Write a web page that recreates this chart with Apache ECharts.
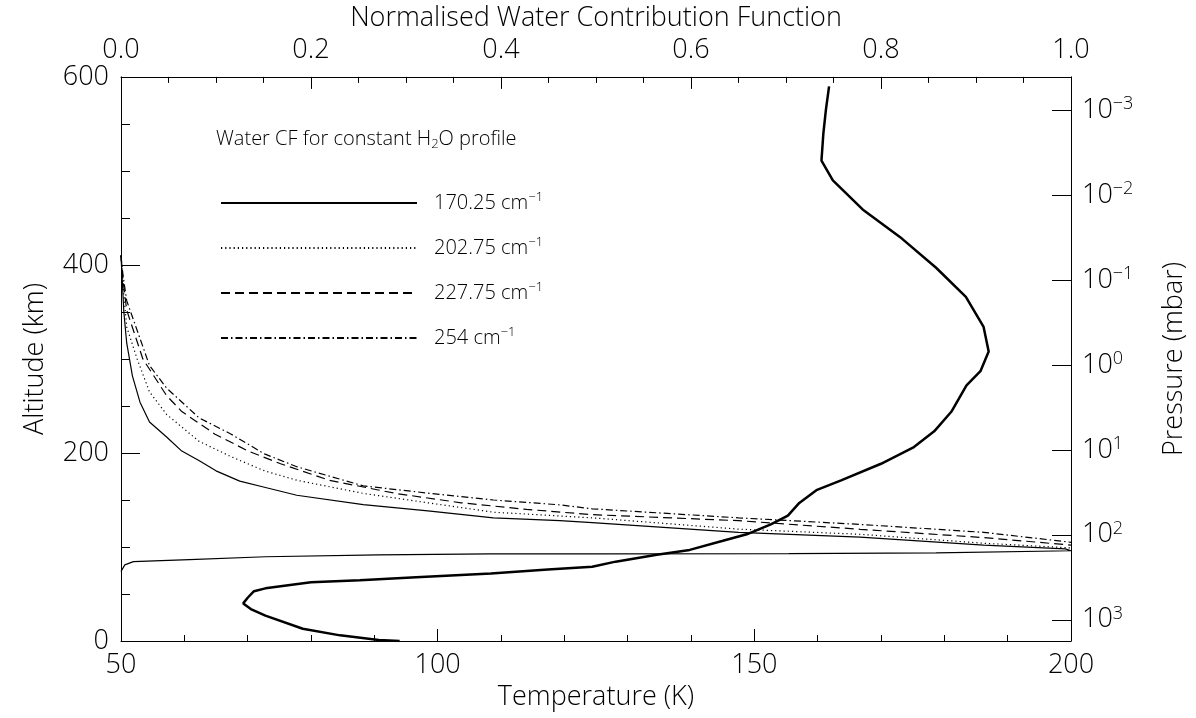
<!DOCTYPE html>
<html><head><meta charset="utf-8">
<script src="https://cdn.jsdelivr.net/npm/echarts@6/dist/echarts.min.js"></script>
<style>html,body{margin:0;padding:0;background:#fff}#c{width:1196px;height:718px}</style>
</head><body><div id="c"></div>
<script>
// ---- Temperature profile (bottom axis, K) vs altitude (km)
const tempK   = [94.0, 90.7, 84.6, 78.7, 72.8, 70.5, 69.3, 70.0, 71.0, 72.8, 80.0, 87.7, 96.6, 108.4, 117.4, 124.4, 128.1, 134.6, 139.8, 144.9, 148.8, 152.6, 155.3, 157.1, 159.8, 163.7, 170.0, 175.2, 178.4, 181.1, 183.5, 185.7, 187.0, 186.2, 183.4, 178.7, 173.3, 167.1, 162.4, 160.6, 160.9, 161.3, 161.8];
const tempAlt = [0, 1, 6, 13, 27, 34, 40, 46, 53, 56, 62.5, 64.6, 67.7, 71.9, 76, 79, 84.4, 91.7, 96.9, 106.3, 113.5, 124, 133.3, 146.9, 160.4, 170.8, 188.5, 206.3, 223, 243.8, 271.9, 287, 308, 334, 366, 397, 428, 459, 490, 511, 540, 565, 590];

// ---- Normalised water contribution functions (top axis) vs altitude (km)
const cfNames = ['170.25', '202.75', '227.75', '254'];
const cf170    = [0, 0.001, 0.003, 0.006, 0.012, 0.020, 0.030, 0.048, 0.064, 0.082, 0.100, 0.125, 0.151, 0.185, 0.255, 0.323, 0.392, 0.462, 0.496, 0.650, 0.778, 0.908, 0.994, 1.0, 0.998, 0.858, 0.703, 0.496, 0.389, 0.271, 0.152, 0.072, 0.013, 0.004, 0];
const cf170Alt = [410, 390, 350, 317, 282, 254, 233, 217, 202, 192, 181, 170, 163.5, 155, 145, 138.5, 131, 128, 126, 115.6, 110.4, 102, 98, 96, 95.5, 93.8, 93, 92.7, 92.7, 91.7, 89.6, 86.5, 84.4, 81, 74];
const cf202    = [0, 0.002, 0.006, 0.017, 0.030, 0.048, 0.082, 0.116, 0.151, 0.185, 0.255, 0.323, 0.392, 0.496, 0.650, 0.778, 0.908, 1.0];
const cf202Alt = [410, 380, 334, 300, 265, 241, 212.5, 196, 181, 171, 157, 147, 137, 131, 119, 113.5, 104, 99];
const cf227    = [0, 0.002, 0.006, 0.023, 0.048, 0.064, 0.099, 0.134, 0.168, 0.219, 0.289, 0.358, 0.427, 0.496, 0.650, 0.778, 0.908, 1.0];
const cf227Alt = [410, 385, 352, 300, 261, 244, 220, 202, 188.5, 171, 157, 147, 140, 134.4, 128, 118.8, 110, 102];
const cf254    = [0, 0.002, 0.006, 0.030, 0.048, 0.082, 0.116, 0.151, 0.185, 0.255, 0.323, 0.392, 0.462, 0.496, 0.650, 0.778, 0.908, 1.0];
const cf254Alt = [410, 390, 362, 293, 269, 237.5, 220, 199, 185.4, 165, 157.3, 150, 144.8, 140.6, 131, 124, 115.6, 105];

// ---- Pressure axis (right): decades shown, log10(p / mbar)
const pressureExp = [-3, -2, -1, 0, 1, 2, 3];
const pressureLogTop = -3.39, pressureLogBottom = 3.25;

const FONT = '"Open Sans", Lato, sans-serif';
const base = {fontFamily: FONT, fontWeight: 300, color: '#000'};
const zip = (a, b) => a.map((v, i) => [v, b[i]]);
const black = {color: '#000', width: 1};

const chart = echarts.init(document.getElementById('c'));
const tickCommon = (len, minorLen, split) => ({
  axisLine: {show: true, onZero: false, lineStyle: black},
  axisTick: {show: true, inside: true, length: len, lineStyle: black},
  minorTick: {show: split > 0, splitNumber: split || 1, length: minorLen, lineStyle: black},
  splitLine: {show: false}, minorSplitLine: {show: false}
});
const supMinus = v => (v < 0 ? '\u2212' + Math.abs(v) : String(v));

chart.setOption({
  animation: false,
  backgroundColor: '#fff',
  grid: {left: 121, right: 109, top: 66, bottom: 77, containLabel: false},
  title: {
    text: '{a|Water CF for constant H}{sub|2}{a|O profile}',
    left: 216, top: 127, padding: 0,
    textStyle: {rich: {
      a: {...base, fontSize: 20, lineHeight: 24},
      sub: {...base, fontSize: 13, lineHeight: 13, verticalAlign: 'bottom'}
    }}
  },
  legend: {
    orient: 'vertical', left: 215, top: 186, itemWidth: 196, itemHeight: 14, itemGap: 23,
    selectedMode: false, data: cfNames,
    itemStyle: {color: 'rgba(0,0,0,0)', borderWidth: 0, opacity: 0},
    formatter: n => `{t|${n} cm}{s|\u22121}`,
    textStyle: {padding: [0, 0, 0, 12], rich: {
      t: {...base, fontSize: 20, lineHeight: 24},
      s: {...base, fontSize: 13, lineHeight: 13, verticalAlign: 'top'}
    }}
  },
  xAxis: [
    Object.assign({
      type: 'value', position: 'bottom', min: 50, max: 200, interval: 50,
      name: 'Temperature (K)', nameLocation: 'middle', nameGap: 42,
      nameTextStyle: {...base, fontSize: 27},
      axisLabel: {...base, fontSize: 27, margin: 11}
    }, tickCommon(12, 6, 5)),
    Object.assign({
      type: 'value', position: 'top', min: 0, max: 1, interval: 0.2,
      name: 'Normalised Water Contribution Function', nameLocation: 'middle', nameGap: 35,
      nameTextStyle: {...base, fontSize: 27},
      axisLabel: {...base, fontSize: 27, margin: 13, formatter: v => v.toFixed(1)}
    }, tickCommon(12, 6, 4))
  ],
  yAxis: [
    Object.assign({
      type: 'value', position: 'left', min: 0, max: 600, interval: 200,
      name: 'Altitude (km)', nameLocation: 'middle', nameGap: 72, nameRotate: 90,
      nameTextStyle: {...base, fontSize: 27},
      axisLabel: {...base, fontSize: 27, margin: 12}
    }, tickCommon(19, 9, 4)),
    {
      type: 'value', position: 'right', inverse: true, min: pressureLogTop, max: pressureLogBottom,
      name: 'Pressure (mbar)', nameLocation: 'middle', nameGap: 90, nameRotate: 90,
      nameTextStyle: {...base, fontSize: 27},
      axisLine: {show: true, onZero: false, lineStyle: black},
      axisTick: {show: true, inside: true, length: 19, lineStyle: black, customValues: pressureExp},
      minorTick: {show: false}, splitLine: {show: false},
      axisLabel: {
        customValues: pressureExp, margin: 11,
        formatter: v => `{b|10}{s|${supMinus(v)}}`,
        rich: {
          b: {...base, fontSize: 27, lineHeight: 30},
          s: {...base, fontSize: 18, lineHeight: 18, verticalAlign: 'top'}
        }
      }
    }
  ],
  series: [
    {name: 'Temperature', type: 'line', xAxisIndex: 0, yAxisIndex: 0, data: zip(tempK, tempAlt),
     symbol: 'none', silent: true, z: 5, lineStyle: {color: '#000', width: 2.5}},
    {name: cfNames[0], type: 'line', xAxisIndex: 1, yAxisIndex: 0, data: zip(cf170, cf170Alt),
     symbol: 'none', silent: true, color: '#000', lineStyle: {color: '#000', width: 1.2, type: 'solid'}},
    {name: cfNames[1], type: 'line', xAxisIndex: 1, yAxisIndex: 0, data: zip(cf202, cf202Alt),
     symbol: 'none', silent: true, color: '#000', lineStyle: {color: '#000', width: 1.2, type: [1.2, 3]}},
    {name: cfNames[2], type: 'line', xAxisIndex: 1, yAxisIndex: 0, data: zip(cf227, cf227Alt),
     symbol: 'none', silent: true, color: '#000', lineStyle: {color: '#000', width: 1.2, type: [9, 5]}},
    {name: cfNames[3], type: 'line', xAxisIndex: 1, yAxisIndex: 0, data: zip(cf254, cf254Alt),
     symbol: 'none', silent: true, color: '#000', lineStyle: {color: '#000', width: 1.2, type: [7, 3, 1.5, 3]}}
  ]
});
</script></body></html>
